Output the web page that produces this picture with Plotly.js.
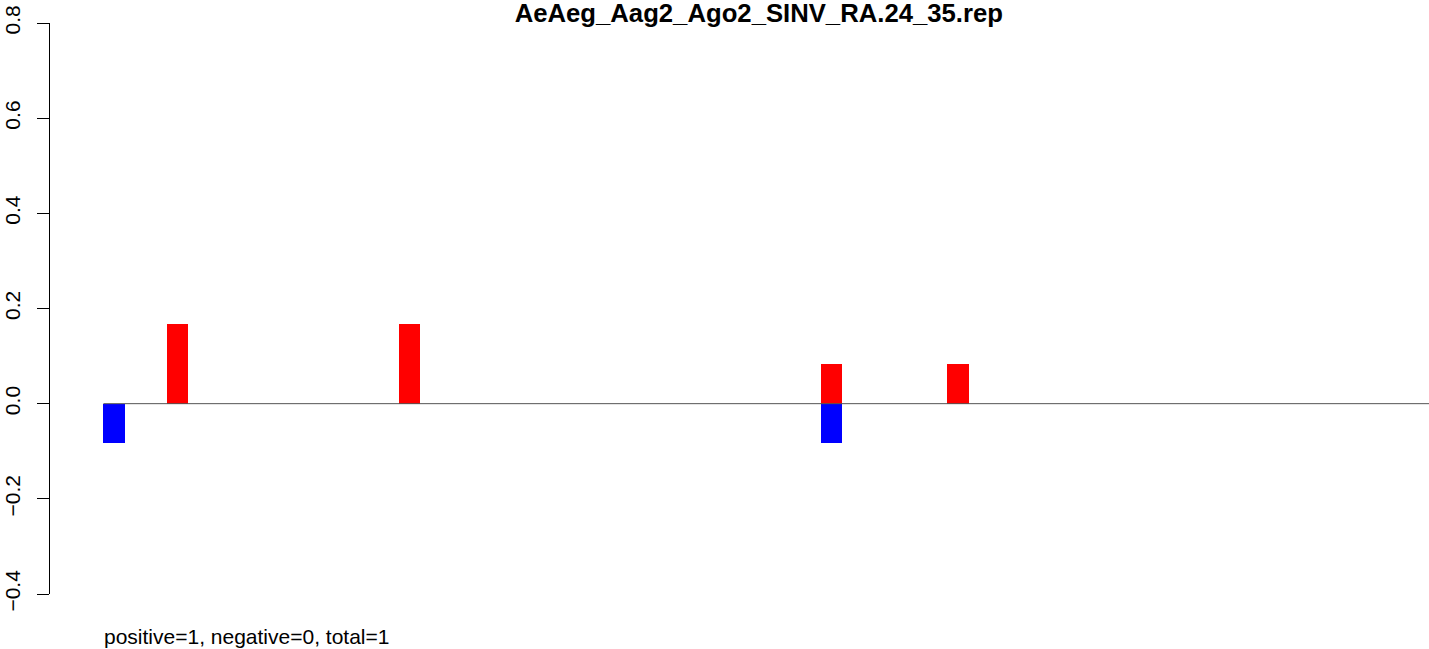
<!DOCTYPE html>
<html>
<head>
<meta charset="utf-8">
<script src="https://cdn.plot.ly/plotly-3.0.1.min.js"></script>
<style>
html,body{margin:0;padding:0;background:#fff;}
#chart{width:1429px;height:649px;}
</style>
</head>
<body>
<div id="chart"></div>
<script>
// Data
const chartTitle = "AeAeg_Aag2_Ago2_SINV_RA.24_35.rep";
const footnote = "positive=1, negative=0, total=1";
const positivePositions = [4, 15, 35, 41];
const positiveValues = [0.1667, 0.1667, 0.0833, 0.0833];
const negativePositions = [1, 35];
const negativeValues = [-0.0833, -0.0833];
const yTickValues = [-0.4, -0.2, 0.0, 0.2, 0.4, 0.6, 0.8];
const yTickLabels = ["\u22120.4", "\u22120.2", "0.0", "0.2", "0.4", "0.6", "0.8"];

const xRange = [-2.033, 63.32];
const yRange = [-0.4, 0.8];
const fontFamily = "Liberation Sans, Arial, Helvetica, sans-serif";

const traces = [
  {
    type: "bar",
    x: positivePositions,
    y: positiveValues,
    width: 1,
    marker: {color: "#FF0000", line: {width: 0}},
    hoverinfo: "x+y",
    showlegend: false
  },
  {
    type: "bar",
    x: negativePositions,
    y: negativeValues,
    width: 1,
    marker: {color: "#0000FF", line: {width: 0}},
    hoverinfo: "x+y",
    showlegend: false
  }
];

const allPositions = positivePositions.concat(negativePositions);
const firstLeft = Math.min.apply(null, allPositions) - 0.5;

const layout = {
  width: 1429,
  height: 649,
  paper_bgcolor: "#ffffff",
  plot_bgcolor: "#ffffff",
  margin: {l: 50, r: 0, t: 23, b: 55, pad: 0},
  barmode: "relative",
  bargap: 0,
  showlegend: false,
  font: {family: fontFamily, color: "#000000", size: 21},
  title: {
    text: chartTitle,
    font: {family: fontFamily, size: 25.7, weight: "bold", color: "#000000"},
    x: 0.531,
    xref: "container",
    xanchor: "center",
    y: 0.98,
    yref: "container",
    yanchor: "middle"
  },
  xaxis: {
    range: xRange,
    visible: false,
    showgrid: false,
    zeroline: false
  },
  yaxis: {
    range: yRange,
    tickmode: "array",
    tickvals: yTickValues,
    ticktext: yTickLabels,
    tickangle: -90,
    ticks: "outside",
    ticklen: 12,
    tickwidth: 1,
    tickcolor: "#000000",
    ticklabelstandoff: 9,
    showline: true,
    linecolor: "#000000",
    linewidth: 1,
    showgrid: false,
    zeroline: false,
    tickfont: {family: fontFamily, size: 21, color: "#000000"}
  },
  shapes: [
    {
      type: "line",
      xref: "x",
      yref: "y",
      x0: firstLeft,
      x1: xRange[1],
      y0: 0,
      y1: 0,
      layer: "above",
      line: {color: "#555555", width: 1}
    }
  ],
  annotations: [
    {
      text: footnote,
      xref: "paper",
      yref: "paper",
      x: 0.0378,
      y: -0.0736,
      xanchor: "left",
      yanchor: "middle",
      showarrow: false,
      font: {family: fontFamily, size: 21, color: "#000000"}
    }
  ]
};

Plotly.newPlot("chart", traces, layout, {displayModeBar: false, staticPlot: true});
</script>
</body>
</html>
